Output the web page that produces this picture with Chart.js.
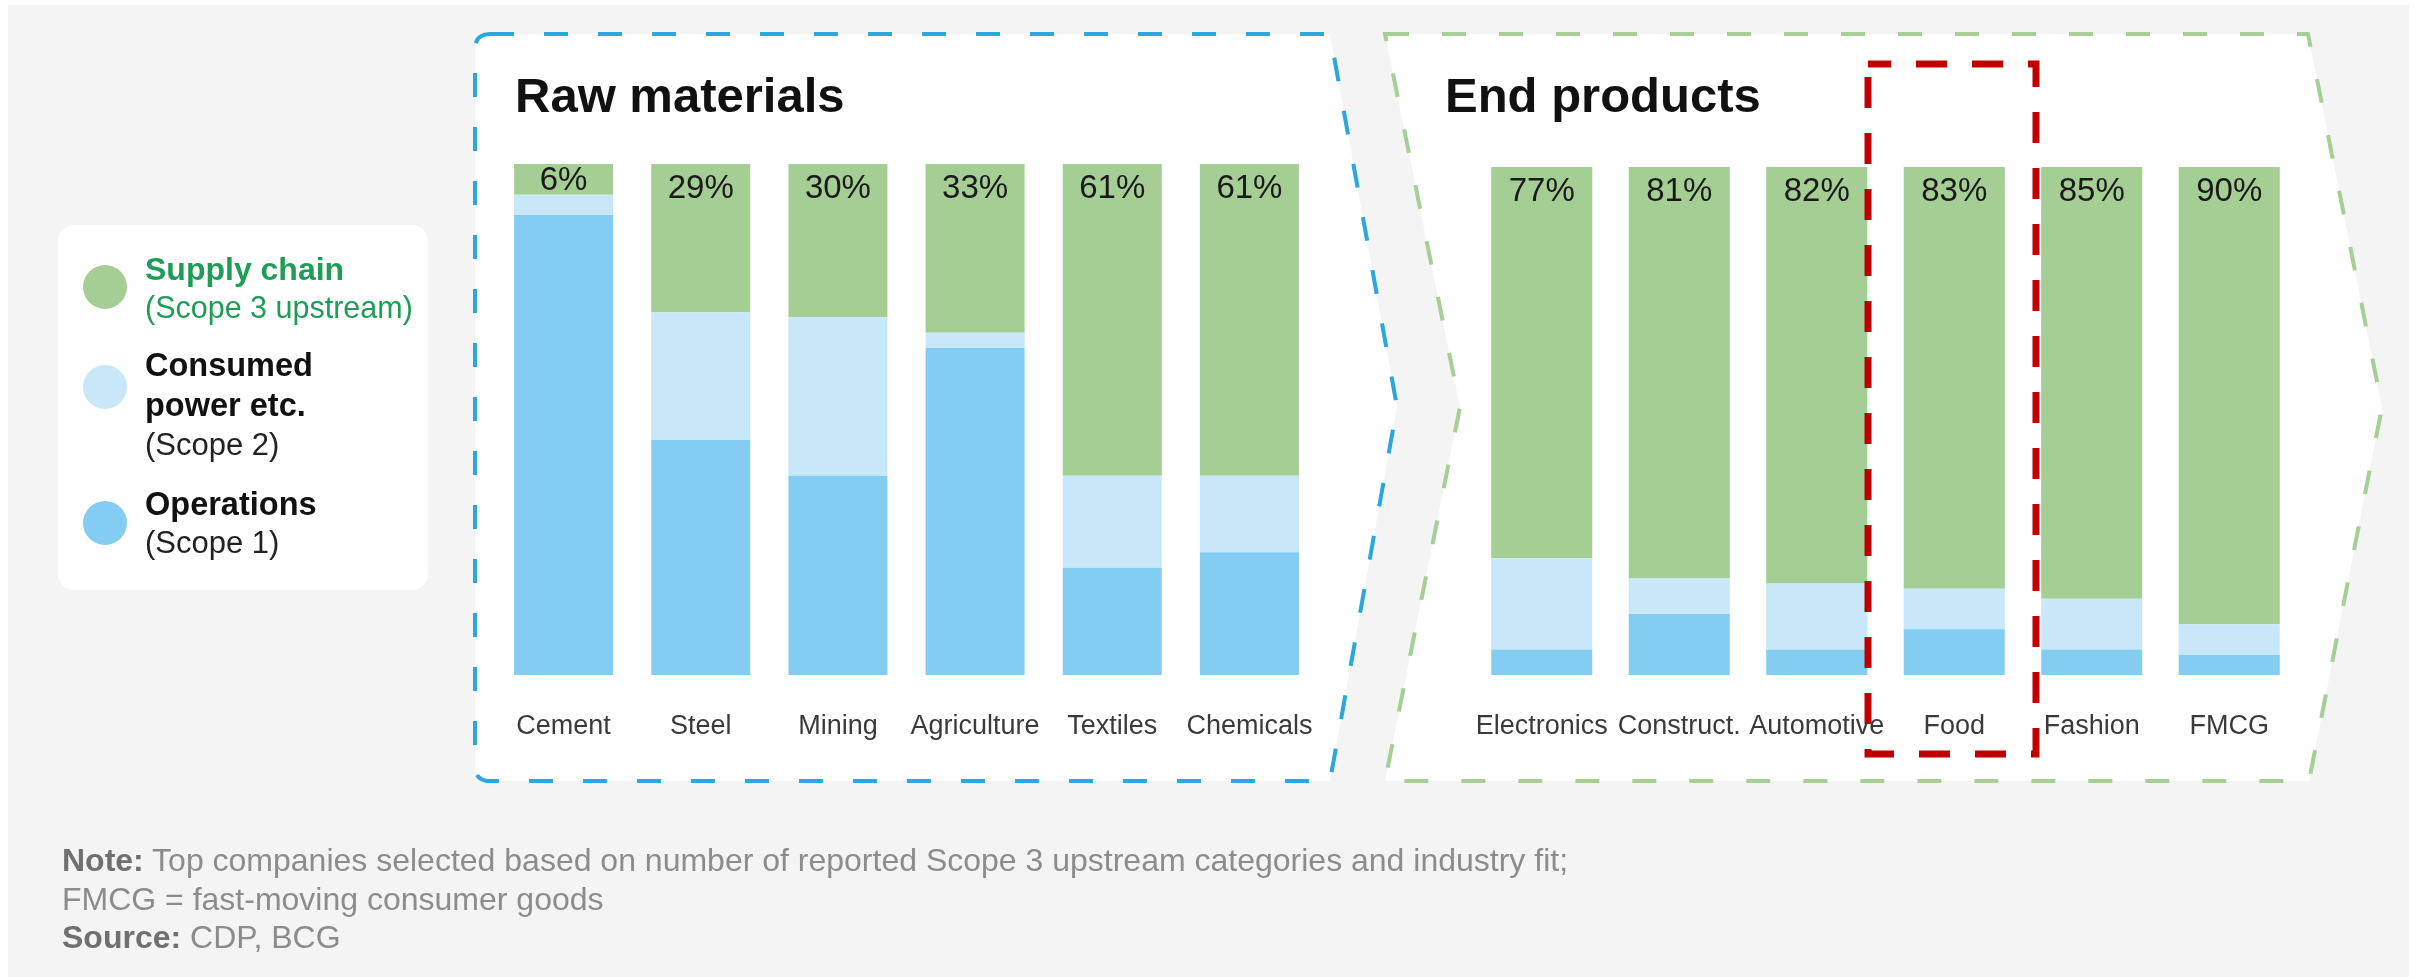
<!DOCTYPE html>
<html>
<head>
<meta charset="utf-8">
<script src="https://cdn.jsdelivr.net/npm/chart.js@4.4.1/dist/chart.umd.min.js"></script>
<style>
    body { margin: 0; background: #ffffff; width: 2417px; height: 977px; overflow: hidden; position: relative; font-family: "Liberation Sans", Arial, sans-serif; }
    .capa { position: absolute; left: 0; top: 0; }
    .texto { position: absolute; white-space: nowrap; line-height: 1; }
    .lienzo { position: absolute; }
    .caja-leyenda { position: absolute; left: 58px; top: 225px; width: 370px; height: 365px; background: #ffffff; border-radius: 16px; }
    .punto { position: absolute; width: 44px; height: 44px; border-radius: 50%; }
</style>
</head>
<body>

<svg class="capa" width="2417" height="977">
    <rect x="8" y="5" width="2401" height="972" fill="#f4f4f4"/>
    <path d="M 490 34 L 1330 34 L 1397 407 L 1330 781 L 490 781 Q 475 781 475 766 L 475 49 Q 475 34 490 34 Z"
          fill="#ffffff" stroke="#2ba6df" stroke-width="4" stroke-dasharray="24 30"/>
    <path d="M 1385 34 L 2308 34 L 2382 407 L 2309 781 L 1385 781 L 1460 407 Z"
          fill="#ffffff" stroke="#a5cf94" stroke-width="4" stroke-dasharray="24 33"/>
</svg>

<div class="caja-leyenda"></div>

<canvas id="graficoMaterias" class="lienzo" width="823" height="620" style="left:495px; top:150px;"></canvas>
<canvas id="graficoProductos" class="lienzo" width="825" height="620" style="left:1473px; top:150px;"></canvas>

<!-- recuadro rojo sobre "Food" -->
<svg class="capa" width="2417" height="977">
    <rect x="1868" y="64" width="168" height="690" fill="none" stroke="#c00000" stroke-width="7" stroke-dasharray="31 25" stroke-dashoffset="8"/>
</svg>

<script>
// Datos (porcentajes)
const categoriasMaterias = ["Cement", "Steel", "Mining", "Agriculture", "Textiles", "Chemicals"];
const cadenaMaterias     = [6, 29, 30, 33, 61, 61];
const energiaMaterias    = [4, 25, 31, 3, 18, 15];
const operacionMaterias  = [90, 46, 39, 64, 21, 24];

const categoriasProductos = ["Electronics", "Construct.", "Automotive", "Food", "Fashion", "FMCG"];
const cadenaProductos     = [77, 81, 82, 83, 85, 90];
const energiaProductos    = [18, 7, 13, 8, 10, 6];
const operacionProductos  = [5, 12, 5, 9, 5, 4];

const colorCadena    = "#a5ce95";
const colorEnergia   = "#c8e7f9";
const colorOperacion = "#83cdf3";

const fuente = '"Liberation Sans", Arial, sans-serif';

// Coloca un texto html con la linea base en "base"
function ponerTexto(contenido, x, base, tam, peso, color){
    let div = document.createElement("div");
    div.className = "texto";
    div.innerHTML = contenido;
    div.style.left = x + "px";
    div.style.top = (base - 0.8465 * tam) + "px";
    div.style.fontSize = tam + "px";
    div.style.fontWeight = peso;
    div.style.color = color;
    document.body.appendChild(div);
}

function ponerPunto(x, y, color){
    let p = document.createElement("div");
    p.className = "punto";
    p.style.left = (x - 22) + "px";
    p.style.top = (y - 22) + "px";
    p.style.background = color;
    document.body.appendChild(p);
}

// Titulos
ponerTexto("Raw materials", 515, 112, 49, "bold", "#111111");
ponerTexto("End products", 1445, 112, 49, "bold", "#111111");

// Leyenda
ponerPunto(105, 287, colorCadena);
ponerPunto(105, 387, colorEnergia);
ponerPunto(105, 523, colorOperacion);
ponerTexto("Supply chain", 145, 280, 32, "bold", "#1f9d57");
ponerTexto("(Scope 3 upstream)", 145, 318, 30.5, "normal", "#1f9d57");
ponerTexto("Consumed", 145, 377, 32.5, "bold", "#111111");
ponerTexto("power etc.", 145, 417, 32.5, "bold", "#111111");
ponerTexto("(Scope 2)", 145, 455, 31, "normal", "#222222");
ponerTexto("Operations", 145, 516, 32.5, "bold", "#111111");
ponerTexto("(Scope 1)", 145, 553, 31, "normal", "#222222");

// Nota al pie
ponerTexto('<b style="color:#707070">Note:</b> Top companies selected based on number of reported Scope 3 upstream categories and industry fit;', 62, 871, 32, "normal", "#8c8c8c");
ponerTexto("FMCG = fast-moving consumer goods", 62, 910, 32, "normal", "#8c8c8c");
ponerTexto('<b style="color:#707070">Source:</b> CDP, BCG', 62, 948, 32, "normal", "#8c8c8c");

// Plugin que escribe los porcentajes y las categorias
const etiquetas = {
    id: "etiquetas",
    afterDatasetsDraw: function(chart, args, opciones){
        let ctx = chart.ctx;
        let metaCadena = chart.getDatasetMeta(2);
        ctx.save();
        ctx.textAlign = "center";
        ctx.textBaseline = "middle";
        ctx.fillStyle = "#1a1a1a";
        ctx.font = "33px " + fuente;
        metaCadena.data.forEach((barra, i) => {
            let valor = chart.data.datasets[2].data[i];
            let y = Math.min(barra.y + 25, (barra.y + barra.base) / 2 + 2);
            ctx.fillText(valor + "%", barra.x, y);
        });
        ctx.fillStyle = "#3a3a3a";
        ctx.font = "27px " + fuente;
        chart.data.labels.forEach((etiqueta, i) => {
            ctx.fillText(etiqueta, chart.scales.x.getPixelForValue(i), opciones.yCategoria);
        });
        ctx.restore();
    }
};

function crearGrafico(id, categorias, operacion, energia, cadena, anchoBarra, rellenoArriba){
    return new Chart(id, {
        type: "bar",
        data: {
            labels: categorias,
            datasets: [
                { label: "Operations (Scope 1)", data: operacion, backgroundColor: colorOperacion },
                { label: "Consumed power etc. (Scope 2)", data: energia, backgroundColor: colorEnergia },
                { label: "Supply chain (Scope 3 upstream)", data: cadena, backgroundColor: colorCadena }
            ]
        },
        options: {
            responsive: false,
            animation: false,
            devicePixelRatio: 1,
            layout: { padding: { top: rellenoArriba, bottom: 95, left: 0, right: 0 } },
            datasets: { bar: { categoryPercentage: 1, barPercentage: anchoBarra, borderWidth: 0 } },
            scales: {
                x: { stacked: true, display: false },
                y: { stacked: true, display: false, min: 0, max: 100 }
            },
            plugins: {
                legend: { display: false },
                tooltip: { enabled: false },
                etiquetas: { yCategoria: 577 }
            }
        },
        plugins: [etiquetas]
    });
}

crearGrafico("graficoMaterias", categoriasMaterias, operacionMaterias, energiaMaterias, cadenaMaterias, 0.722, 14);
crearGrafico("graficoProductos", categoriasProductos, operacionProductos, energiaProductos, cadenaProductos, 0.735, 17);
</script>
</body>
</html>
